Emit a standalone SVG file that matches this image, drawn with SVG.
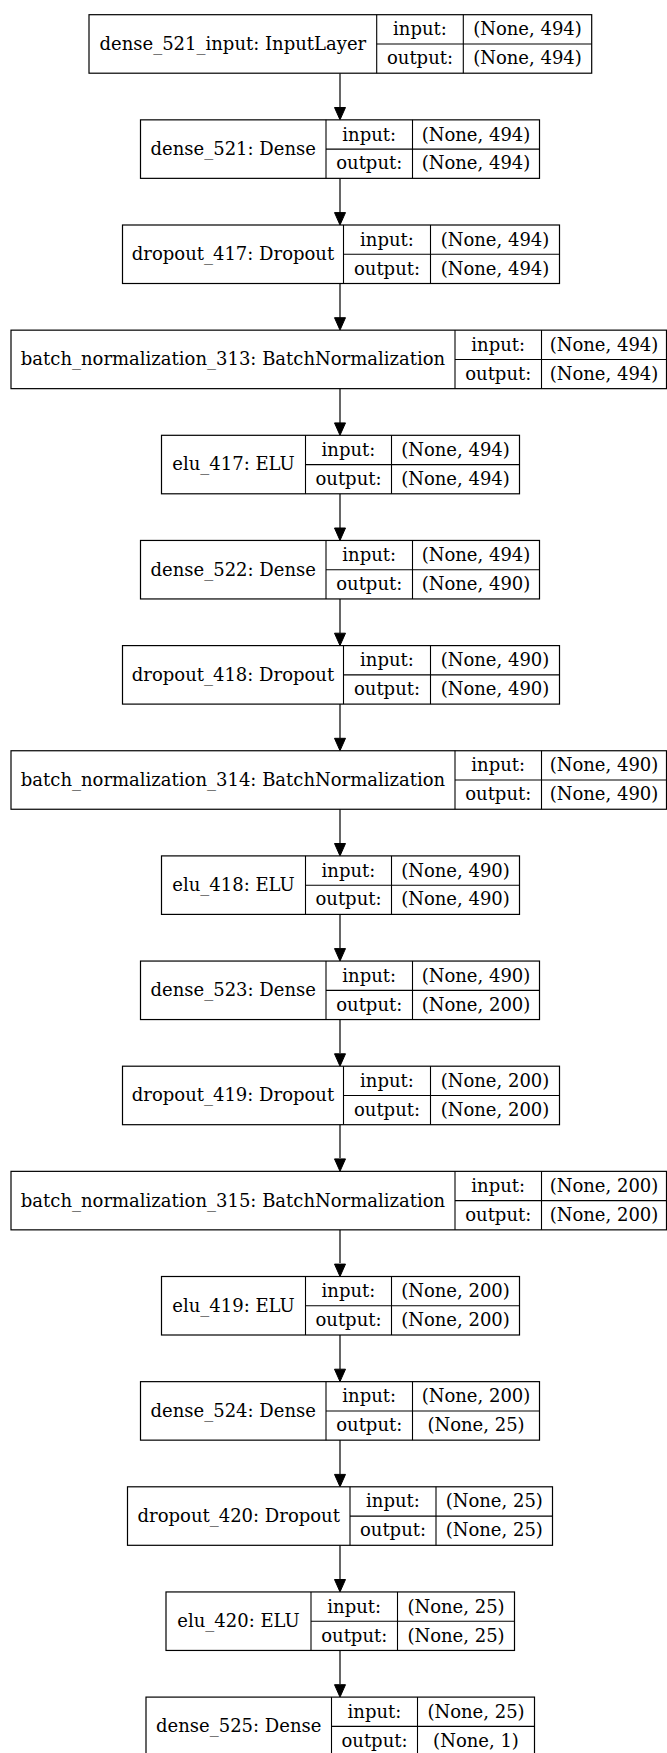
<svg xmlns="http://www.w3.org/2000/svg" width="667" height="1753" viewBox="0 0 667 1753">
<style>
rect.n{fill:#fff;stroke:#000;stroke-width:1.2}
line.d{stroke:#000;stroke-width:1.1}
text{font-family:"DejaVu Serif","Liberation Serif",serif;font-size:18px;fill:#000;text-anchor:middle}
.e line{stroke:#000;stroke-width:1.2}
.e polygon{fill:#000;stroke:#000;stroke-width:1}
</style>
<rect width="667" height="1753" fill="#fff"/>
<g id="connectors" class="e">
<line x1="340" y1="73.2" x2="340" y2="108"/><polygon points="340,119.8 334.5,107.5 345.5,107.5"/>
<line x1="340" y1="178.4" x2="340" y2="213"/><polygon points="340,225 334.5,212.6 345.5,212.6"/>
<line x1="340" y1="283.5" x2="340" y2="318"/><polygon points="340,330.1 334.5,317.7 345.5,317.7"/>
<line x1="340" y1="388.6" x2="340" y2="423"/><polygon points="340,435.3 334.5,422.9 345.5,422.9"/>
<line x1="340" y1="493.8" x2="340" y2="528"/><polygon points="340,540.4 334.5,528 345.5,528"/>
<line x1="340" y1="598.9" x2="340" y2="633"/><polygon points="340,645.6 334.5,633.2 345.5,633.2"/>
<line x1="340" y1="704.1" x2="340" y2="738"/><polygon points="340,750.7 334.5,738.3 345.5,738.3"/>
<line x1="340" y1="809.2" x2="340" y2="843"/><polygon points="340,855.9 334.5,843.5 345.5,843.5"/>
<line x1="340" y1="914.4" x2="340" y2="948"/><polygon points="340,961 334.5,948.6 345.5,948.6"/>
<line x1="340" y1="1019.5" x2="340" y2="1053"/><polygon points="340,1066.2 334.5,1053.8 345.5,1053.8"/>
<line x1="340" y1="1124.7" x2="340" y2="1158"/><polygon points="340,1171.3 334.5,1158.9 345.5,1158.9"/>
<line x1="340" y1="1229.8" x2="340" y2="1263"/><polygon points="340,1276.5 334.5,1264.1 345.5,1264.1"/>
<line x1="340" y1="1335" x2="340" y2="1369"/><polygon points="340,1381.6 334.5,1369.2 345.5,1369.2"/>
<line x1="340" y1="1440.1" x2="340" y2="1474"/><polygon points="340,1486.8 334.5,1474.4 345.5,1474.4"/>
<line x1="340" y1="1545.3" x2="340" y2="1579"/><polygon points="340,1591.9 334.5,1579.5 345.5,1579.5"/>
<line x1="340" y1="1650.4" x2="340" y2="1684"/><polygon points="340,1697.1 334.5,1684.7 345.5,1684.7"/>
</g>
<g id="n0">
<rect class="n" x="89" y="14.7" width="502.7" height="58.5"/>
<line class="d" x1="376.7" y1="14.7" x2="376.7" y2="73.2"/><line class="d" x1="463.3" y1="14.7" x2="463.3" y2="73.2"/><line class="d" x1="376.7" y1="44" x2="591.7" y2="44"/>
<text x="232.85" y="49.9">dense_521_input: InputLayer</text>
<text x="420" y="35.4">input:</text>
<text x="420" y="64.3">output:</text>
<text x="527.5" y="35.4">(None, 494)</text>
<text x="527.5" y="64.3">(None, 494)</text>
</g>
<g id="n1" transform="translate(0,105.15)">
<rect class="n" x="140.5" y="14.7" width="399" height="58.5"/>
<line class="d" x1="326" y1="14.7" x2="326" y2="73.2"/><line class="d" x1="412.5" y1="14.7" x2="412.5" y2="73.2"/><line class="d" x1="326" y1="44" x2="539.5" y2="44"/>
<text x="233.25" y="49.9">dense_521: Dense</text>
<text x="369.25" y="35.4">input:</text>
<text x="369.25" y="64.3">output:</text>
<text x="476" y="35.4">(None, 494)</text>
<text x="476" y="64.3">(None, 494)</text>
</g>
<g id="n2" transform="translate(0,210.3)">
<rect class="n" x="122.5" y="14.7" width="437" height="58.5"/>
<line class="d" x1="343.5" y1="14.7" x2="343.5" y2="73.2"/><line class="d" x1="430.5" y1="14.7" x2="430.5" y2="73.2"/><line class="d" x1="343.5" y1="44" x2="559.5" y2="44"/>
<text x="233" y="49.9">dropout_417: Dropout</text>
<text x="387" y="35.4">input:</text>
<text x="387" y="64.3">output:</text>
<text x="495" y="35.4">(None, 494)</text>
<text x="495" y="64.3">(None, 494)</text>
</g>
<g id="n3" transform="translate(0,315.45)">
<rect class="n" x="11" y="14.7" width="655.5" height="58.5"/>
<line class="d" x1="455" y1="14.7" x2="455" y2="73.2"/><line class="d" x1="541.5" y1="14.7" x2="541.5" y2="73.2"/><line class="d" x1="455" y1="44" x2="666.5" y2="44"/>
<text x="233" y="49.9">batch_normalization_313: BatchNormalization</text>
<text x="498.25" y="35.4">input:</text>
<text x="498.25" y="64.3">output:</text>
<text x="604" y="35.4">(None, 494)</text>
<text x="604" y="64.3">(None, 494)</text>
</g>
<g id="n4" transform="translate(0,420.6)">
<rect class="n" x="161.5" y="14.7" width="358" height="58.5"/>
<line class="d" x1="305.5" y1="14.7" x2="305.5" y2="73.2"/><line class="d" x1="391.5" y1="14.7" x2="391.5" y2="73.2"/><line class="d" x1="305.5" y1="44" x2="519.5" y2="44"/>
<text x="233.5" y="49.9">elu_417: ELU</text>
<text x="348.5" y="35.4">input:</text>
<text x="348.5" y="64.3">output:</text>
<text x="455.5" y="35.4">(None, 494)</text>
<text x="455.5" y="64.3">(None, 494)</text>
</g>
<g id="n5" transform="translate(0,525.75)">
<rect class="n" x="140.5" y="14.7" width="399" height="58.5"/>
<line class="d" x1="326" y1="14.7" x2="326" y2="73.2"/><line class="d" x1="412.5" y1="14.7" x2="412.5" y2="73.2"/><line class="d" x1="326" y1="44" x2="539.5" y2="44"/>
<text x="233.25" y="49.9">dense_522: Dense</text>
<text x="369.25" y="35.4">input:</text>
<text x="369.25" y="64.3">output:</text>
<text x="476" y="35.4">(None, 494)</text>
<text x="476" y="64.3">(None, 490)</text>
</g>
<g id="n6" transform="translate(0,630.9)">
<rect class="n" x="122.5" y="14.7" width="437" height="58.5"/>
<line class="d" x1="343.5" y1="14.7" x2="343.5" y2="73.2"/><line class="d" x1="430.5" y1="14.7" x2="430.5" y2="73.2"/><line class="d" x1="343.5" y1="44" x2="559.5" y2="44"/>
<text x="233" y="49.9">dropout_418: Dropout</text>
<text x="387" y="35.4">input:</text>
<text x="387" y="64.3">output:</text>
<text x="495" y="35.4">(None, 490)</text>
<text x="495" y="64.3">(None, 490)</text>
</g>
<g id="n7" transform="translate(0,736.05)">
<rect class="n" x="11" y="14.7" width="655.5" height="58.5"/>
<line class="d" x1="455" y1="14.7" x2="455" y2="73.2"/><line class="d" x1="541.5" y1="14.7" x2="541.5" y2="73.2"/><line class="d" x1="455" y1="44" x2="666.5" y2="44"/>
<text x="233" y="49.9">batch_normalization_314: BatchNormalization</text>
<text x="498.25" y="35.4">input:</text>
<text x="498.25" y="64.3">output:</text>
<text x="604" y="35.4">(None, 490)</text>
<text x="604" y="64.3">(None, 490)</text>
</g>
<g id="n8" transform="translate(0,841.2)">
<rect class="n" x="161.5" y="14.7" width="358" height="58.5"/>
<line class="d" x1="305.5" y1="14.7" x2="305.5" y2="73.2"/><line class="d" x1="391.5" y1="14.7" x2="391.5" y2="73.2"/><line class="d" x1="305.5" y1="44" x2="519.5" y2="44"/>
<text x="233.5" y="49.9">elu_418: ELU</text>
<text x="348.5" y="35.4">input:</text>
<text x="348.5" y="64.3">output:</text>
<text x="455.5" y="35.4">(None, 490)</text>
<text x="455.5" y="64.3">(None, 490)</text>
</g>
<g id="n9" transform="translate(0,946.35)">
<rect class="n" x="140.5" y="14.7" width="399" height="58.5"/>
<line class="d" x1="326" y1="14.7" x2="326" y2="73.2"/><line class="d" x1="412.5" y1="14.7" x2="412.5" y2="73.2"/><line class="d" x1="326" y1="44" x2="539.5" y2="44"/>
<text x="233.25" y="49.9">dense_523: Dense</text>
<text x="369.25" y="35.4">input:</text>
<text x="369.25" y="64.3">output:</text>
<text x="476" y="35.4">(None, 490)</text>
<text x="476" y="64.3">(None, 200)</text>
</g>
<g id="n10" transform="translate(0,1051.5)">
<rect class="n" x="122.5" y="14.7" width="437" height="58.5"/>
<line class="d" x1="343.5" y1="14.7" x2="343.5" y2="73.2"/><line class="d" x1="430.5" y1="14.7" x2="430.5" y2="73.2"/><line class="d" x1="343.5" y1="44" x2="559.5" y2="44"/>
<text x="233" y="49.9">dropout_419: Dropout</text>
<text x="387" y="35.4">input:</text>
<text x="387" y="64.3">output:</text>
<text x="495" y="35.4">(None, 200)</text>
<text x="495" y="64.3">(None, 200)</text>
</g>
<g id="n11" transform="translate(0,1156.65)">
<rect class="n" x="11" y="14.7" width="655.5" height="58.5"/>
<line class="d" x1="455" y1="14.7" x2="455" y2="73.2"/><line class="d" x1="541.5" y1="14.7" x2="541.5" y2="73.2"/><line class="d" x1="455" y1="44" x2="666.5" y2="44"/>
<text x="233" y="49.9">batch_normalization_315: BatchNormalization</text>
<text x="498.25" y="35.4">input:</text>
<text x="498.25" y="64.3">output:</text>
<text x="604" y="35.4">(None, 200)</text>
<text x="604" y="64.3">(None, 200)</text>
</g>
<g id="n12" transform="translate(0,1261.8)">
<rect class="n" x="161.5" y="14.7" width="358" height="58.5"/>
<line class="d" x1="305.5" y1="14.7" x2="305.5" y2="73.2"/><line class="d" x1="391.5" y1="14.7" x2="391.5" y2="73.2"/><line class="d" x1="305.5" y1="44" x2="519.5" y2="44"/>
<text x="233.5" y="49.9">elu_419: ELU</text>
<text x="348.5" y="35.4">input:</text>
<text x="348.5" y="64.3">output:</text>
<text x="455.5" y="35.4">(None, 200)</text>
<text x="455.5" y="64.3">(None, 200)</text>
</g>
<g id="n13" transform="translate(0,1366.95)">
<rect class="n" x="140.5" y="14.7" width="399" height="58.5"/>
<line class="d" x1="326" y1="14.7" x2="326" y2="73.2"/><line class="d" x1="412.5" y1="14.7" x2="412.5" y2="73.2"/><line class="d" x1="326" y1="44" x2="539.5" y2="44"/>
<text x="233.25" y="49.9">dense_524: Dense</text>
<text x="369.25" y="35.4">input:</text>
<text x="369.25" y="64.3">output:</text>
<text x="476" y="35.4">(None, 200)</text>
<text x="476" y="64.3">(None, 25)</text>
</g>
<g id="n14" transform="translate(0,1472.1)">
<rect class="n" x="127.5" y="14.7" width="425" height="58.5"/>
<line class="d" x1="350" y1="14.7" x2="350" y2="73.2"/><line class="d" x1="436" y1="14.7" x2="436" y2="73.2"/><line class="d" x1="350" y1="44" x2="552.5" y2="44"/>
<text x="238.75" y="49.9">dropout_420: Dropout</text>
<text x="393" y="35.4">input:</text>
<text x="393" y="64.3">output:</text>
<text x="494.25" y="35.4">(None, 25)</text>
<text x="494.25" y="64.3">(None, 25)</text>
</g>
<g id="n15" transform="translate(0,1577.25)">
<rect class="n" x="166" y="14.7" width="348.5" height="58.5"/>
<line class="d" x1="311" y1="14.7" x2="311" y2="73.2"/><line class="d" x1="397.5" y1="14.7" x2="397.5" y2="73.2"/><line class="d" x1="311" y1="44" x2="514.5" y2="44"/>
<text x="238.5" y="49.9">elu_420: ELU</text>
<text x="354.25" y="35.4">input:</text>
<text x="354.25" y="64.3">output:</text>
<text x="456" y="35.4">(None, 25)</text>
<text x="456" y="64.3">(None, 25)</text>
</g>
<g id="n16" transform="translate(0,1682.4)">
<rect class="n" x="146" y="14.7" width="388.5" height="58.5"/>
<line class="d" x1="331.5" y1="14.7" x2="331.5" y2="73.2"/><line class="d" x1="417.5" y1="14.7" x2="417.5" y2="73.2"/><line class="d" x1="331.5" y1="44" x2="534.5" y2="44"/>
<text x="238.75" y="49.9">dense_525: Dense</text>
<text x="374.5" y="35.4">input:</text>
<text x="374.5" y="64.3">output:</text>
<text x="476" y="35.4">(None, 25)</text>
<text x="476" y="64.3">(None, 1)</text>
</g>
</svg>
